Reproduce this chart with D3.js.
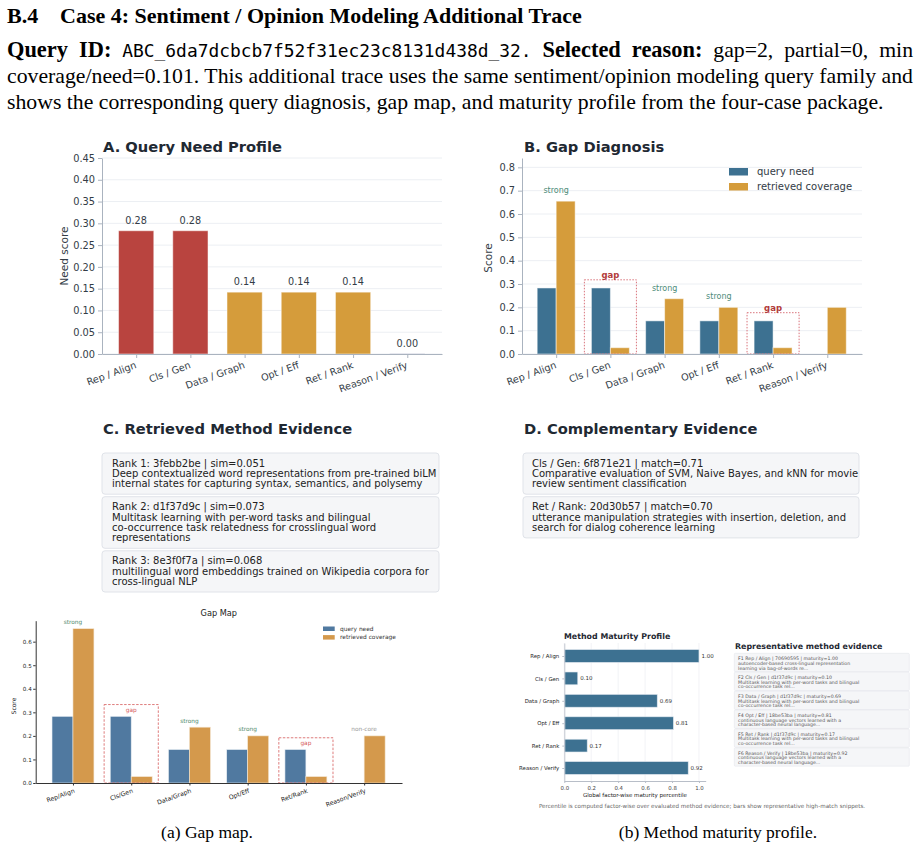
<!DOCTYPE html>
<html>
<head>
<meta charset="utf-8">
<script src="https://cdn.jsdelivr.net/npm/d3@7"></script>
<style>
  body { margin: 0; background: #fff; }
  svg text { font-family: "DejaVu Sans", sans-serif; white-space: pre; }
</style>
</head>
<body>
<svg id="fig" width="920" height="848"></svg>
<script>
// ---- data ----
const factors = ["Rep / Align", "Cls / Gen", "Data / Graph", "Opt / Eff", "Ret / Rank", "Reason / Verify"];
const factorsCompact = ["Rep/Align", "Cls/Gen", "Data/Graph", "Opt/Eff", "Ret/Rank", "Reason/Verify"];
const queryNeed = [0.283, 0.283, 0.142, 0.142, 0.142, 0.0];
const retrievedCoverage = [0.655, 0.027, 0.237, 0.200, 0.027, 0.200];
const diagnosis = ["strong", "gap", "strong", "strong", "gap", "non-core"];
const maturity = [1.00, 0.10, 0.69, 0.81, 0.17, 0.92];

const needTicks = [0, 0.05, 0.10, 0.15, 0.20, 0.25, 0.30, 0.35, 0.40, 0.45];
const gapTicks = [0, 0.1, 0.2, 0.3, 0.4, 0.5, 0.6, 0.7, 0.8];
const mapTicks = [0, 0.1, 0.2, 0.3, 0.4, 0.5, 0.6];
const maturityTicks = [0, 0.2, 0.4, 0.6, 0.8, 1.0];

const retrievedEvidence = [
  ["Rank 1: 3febb2be | sim=0.051",
   "Deep contextualized word representations from pre-trained biLM",
   "internal states for capturing syntax, semantics, and polysemy"],
  ["Rank 2: d1f37d9c | sim=0.073",
   "Multitask learning with per-word tasks and bilingual",
   "co-occurrence task relatedness for crosslingual word",
   "representations"],
  ["Rank 3: 8e3f0f7a | sim=0.068",
   "multilingual word embeddings trained on Wikipedia corpora for",
   "cross-lingual NLP"]
];
const complementaryEvidence = [
  ["Cls / Gen: 6f871e21 | match=0.71",
   "Comparative evaluation of SVM, Naive Bayes, and kNN for movie",
   "review sentiment classification"],
  ["Ret / Rank: 20d30b57 | match=0.70",
   "utterance manipulation strategies with insertion, deletion, and",
   "search for dialog coherence learning"]
];
const representativeEvidence = [
  ["F1 Rep / Align | 70690595 | maturity=1.00",
   "autoencoder-based cross-lingual representation",
   "learning via bag-of-words re..."],
  ["F2 Cls / Gen | d1f37d9c | maturity=0.10",
   "Multitask learning with per-word tasks and bilingual",
   "co-occurrence task rel..."],
  ["F3 Data / Graph | d1f37d9c | maturity=0.69",
   "Multitask learning with per-word tasks and bilingual",
   "co-occurrence task rel..."],
  ["F4 Opt / Eff | 18be53ba | maturity=0.81",
   "continuous language vectors learned with a",
   "character-based neural language..."],
  ["F5 Ret / Rank | d1f37d9c | maturity=0.17",
   "Multitask learning with per-word tasks and bilingual",
   "co-occurrence task rel..."],
  ["F6 Reason / Verify | 18be53ba | maturity=0.92",
   "continuous language vectors learned with a",
   "character-based neural language..."]
];

// ---- colours ----
const RED = "#b9443f", GOLD = "#d59c3b", BLUE = "#3d7191";
const MAP_BLUE = "#5079a0", MAP_GOLD = "#d4994c";
const INK = "#1f2933", TICK = "#333c46", SPINE = "#aab3bf", GRID = "#eceff3";
const STRONG = "#4d8c7a", GAPRED = "#b23a3a";

const svg = d3.select("#fig");
svg.append("rect").attr("width", 920).attr("height", 848).attr("fill", "#fff");

// ---- page header (LaTeX-like) ----
const serif = "'Liberation Serif', 'Times New Roman', serif";
const head = svg.append("g").attr("font-family", serif).attr("fill", "#000");

const title = head.append("text").attr("x", 7).attr("y", 23)
  .attr("font-size", 22).attr("font-weight", "bold").style("font-family", serif);
title.append("tspan").text("B.4");
title.append("tspan").attr("x", 60).text("Case 4: Sentiment / Opinion Modeling Additional Trace");

function bodyLine(y, parts, justify) {
  const t = head.append("text").attr("x", 7).attr("y", y)
    .attr("font-size", 21.75).style("font-family", serif);
  parts.forEach(p => {
    const s = t.append("tspan").text(p.s);
    if (p.b) s.attr("font-weight", "bold").attr("font-size", 22.4);
    if (p.m) s.style("font-family", "'DejaVu Sans Mono', monospace").attr("font-size", 17.9);
  });
  if (justify) {
    const w = t.node().getComputedTextLength();
    const n = (parts.filter(p => !p.m).map(p => p.s).join("").match(/ /g) || []).length;
    t.attr("word-spacing", (906 - w) / n);
  }
}
bodyLine(57, [
  {s: "Query ID:", b: true}, {s: " "},
  {s: "ABC_6da7dcbcb7f52f31ec23c8131d438d_32.", m: true}, {s: " "},
  {s: "Selected reason:", b: true}, {s: " gap=2, partial=0, min"}
], true);
bodyLine(83, [{s: "coverage/need=0.101. This additional trace uses the same sentiment/opinion modeling query family and"}], true);
bodyLine(109, [{s: "shows the corresponding query diagnosis, gap map, and maturity profile from the four-case package."}], false);

// ---- helpers ----
function styleAxis(g, color, textColor, size) {
  g.selectAll(".domain").attr("stroke", color);
  g.selectAll(".tick line").attr("stroke", color);
  g.selectAll(".tick text").attr("fill", textColor).attr("font-size", size)
    .style("font-family", "'DejaVu Sans', sans-serif");
}
function rotateLabels(g, dx, dy) {
  g.selectAll(".tick text")
    .attr("text-anchor", "end")
    .attr("dominant-baseline", "hanging")
    .attr("y", 0).attr("dy", 0)
    .attr("transform", `translate(${dx},${dy}) rotate(-20)`);
}

// ---- A. Query Need Profile ----
const xA = d3.scaleLinear().domain([-0.63, 5.64]).range([102, 442]);
const yA = d3.scaleLinear().domain([0, 0.45]).range([354, 158]);
const gA = svg.append("g");

gA.selectAll(".grid").data(needTicks).join("line")
  .attr("x1", xA.range()[0]).attr("x2", xA.range()[1])
  .attr("y1", d => yA(d)).attr("y2", d => yA(d))
  .attr("stroke", GRID).attr("stroke-width", 1);

gA.selectAll(".bar").data(queryNeed).join("rect")
  .attr("x", (d, i) => xA(i - 0.325))
  .attr("width", xA(0.65) - xA(0))
  .attr("y", d => d > 0 ? yA(d) : yA(0) - 1)
  .attr("height", d => d > 0 ? yA(0) - yA(d) : 1)
  .attr("fill", d => d >= 0.2 ? RED : (d > 0 ? GOLD : "#cfd1df"))
  .attr("stroke", "#fff").attr("stroke-opacity", 0.5).attr("stroke-width", 1);

gA.selectAll(".val").data(queryNeed).join("text")
  .attr("x", (d, i) => xA(i)).attr("y", d => yA(d) - 7)
  .attr("text-anchor", "middle").attr("font-size", 9.7).attr("fill", TICK)
  .text(d => d3.format(".2f")(d));

const axA = gA.append("g").attr("transform", `translate(${xA.range()[0]},0)`)
  .call(d3.axisLeft(yA).tickValues(needTicks).tickFormat(d3.format(".2f")).tickSize(4).tickSizeOuter(0));
styleAxis(axA, SPINE, TICK, 9.8);
const axAx = gA.append("g").attr("transform", `translate(0,${yA(0)})`)
  .call(d3.axisBottom(xA).tickValues(d3.range(factors.length)).tickFormat(i => factors[i]).tickSize(4).tickSizeOuter(0));
styleAxis(axAx, SPINE, TICK, 9.7);
rotateLabels(axAx, -2, 7);

gA.append("text").attr("transform", `translate(68,256) rotate(-90)`)
  .attr("text-anchor", "middle").attr("font-size", 10.5).attr("fill", TICK).text("Need score");
gA.append("text").attr("x", 103).attr("y", 152).attr("font-size", 14.7)
  .attr("font-weight", "bold").attr("fill", INK).text("A. Query Need Profile");

// ---- B. Gap Diagnosis ----
const xB = d3.scaleLinear().domain([-0.63, 5.64]).range([522, 862]);
const yB = d3.scaleLinear().domain([0, 0.84]).range([354, 158]);
const gB = svg.append("g");
const bw = 0.35;

gB.selectAll(".grid").data(gapTicks).join("line")
  .attr("x1", xB.range()[0]).attr("x2", xB.range()[1])
  .attr("y1", d => yB(d)).attr("y2", d => yB(d))
  .attr("stroke", GRID).attr("stroke-width", 1);

gB.selectAll(".need").data(queryNeed).join("rect")
  .attr("x", (d, i) => xB(i - bw)).attr("width", xB(bw) - xB(0))
  .attr("y", d => yB(d)).attr("height", d => yB(0) - yB(d))
  .attr("fill", BLUE).attr("stroke", "#fff").attr("stroke-opacity", 0.5);
gB.selectAll(".cov").data(retrievedCoverage).join("rect")
  .attr("x", (d, i) => xB(i)).attr("width", xB(bw) - xB(0))
  .attr("y", d => yB(d)).attr("height", d => yB(0) - yB(d))
  .attr("fill", GOLD).attr("stroke", "#fff").attr("stroke-opacity", 0.5);

diagnosis.forEach((tag, i) => {
  const top = Math.max(queryNeed[i], retrievedCoverage[i]);
  if (tag === "strong") {
    gB.append("text").attr("x", xB(i)).attr("y", yB(top + 0.045))
      .attr("dominant-baseline", "central").attr("text-anchor", "middle")
      .attr("font-size", 8).attr("fill", STRONG).text("strong");
  } else if (tag === "gap") {
    gB.append("rect").attr("x", xB(i - 0.48)).attr("width", xB(0.96) - xB(0))
      .attr("y", yB(top + 0.035)).attr("height", yB(0) - yB(top + 0.035))
      .attr("fill", "none").attr("stroke", "#d9737b").attr("stroke-width", 1)
      .attr("stroke-dasharray", "1.5,1.5");
    gB.append("text").attr("x", xB(i)).attr("y", yB(top + 0.056))
      .attr("dominant-baseline", "central").attr("text-anchor", "middle")
      .attr("font-size", 8.5).attr("font-weight", "bold").attr("fill", GAPRED).text("gap");
  }
});

const axB = gB.append("g").attr("transform", `translate(${xB.range()[0]},0)`)
  .call(d3.axisLeft(yB).tickValues(gapTicks).tickFormat(d3.format(".1f")).tickSize(4).tickSizeOuter(0));
styleAxis(axB, SPINE, TICK, 9.8);
const axBx = gB.append("g").attr("transform", `translate(0,${yB(0)})`)
  .call(d3.axisBottom(xB).tickValues(d3.range(factors.length)).tickFormat(i => factors[i]).tickSize(4).tickSizeOuter(0));
styleAxis(axBx, SPINE, TICK, 9.7);
rotateLabels(axBx, -2, 7);

gB.append("text").attr("transform", `translate(492,258) rotate(-90)`)
  .attr("text-anchor", "middle").attr("font-size", 10.5).attr("fill", TICK).text("Score");
gB.append("text").attr("x", 524).attr("y", 152).attr("font-size", 14.7)
  .attr("font-weight", "bold").attr("fill", INK).text("B. Gap Diagnosis");

const legB = gB.append("g");
[["query need", BLUE], ["retrieved coverage", GOLD]].forEach(([lab, c], k) => {
  legB.append("rect").attr("x", 729).attr("y", 168 + k * 15).attr("width", 19).attr("height", 7.5).attr("fill", c);
  legB.append("text").attr("x", 757).attr("y", 171.7 + k * 15).attr("dominant-baseline", "central")
    .attr("font-size", 10).attr("fill", TICK).text(lab);
});

// ---- evidence cards ----
function cards(g, list, x0, x1, y0, opts) {
  let y = y0;
  list.forEach(lines => {
    const h = opts.pad + opts.lh * lines.length;
    g.append("rect").attr("x", x0).attr("y", y).attr("width", x1 - x0).attr("height", h)
      .attr("rx", opts.rx).attr("fill", "#f5f6f8").attr("stroke", "#e0e3e9").attr("stroke-width", opts.sw);
    lines.forEach((ln, j) => {
      g.append("text").attr("x", x0 + opts.tx).attr("y", y + opts.first + j * opts.lh)
        .attr("font-size", opts.fs).attr("fill", opts.color).text(ln);
    });
    y += h + opts.gap;
  });
}
const gC = svg.append("g");
gC.append("text").attr("x", 103).attr("y", 434).attr("font-size", 14.7)
  .attr("font-weight", "bold").attr("fill", INK).text("C. Retrieved Method Evidence");
cards(gC, retrievedEvidence, 102, 439, 453,
  {pad: 10, lh: 10.4, rx: 3, sw: 1, tx: 10, first: 13.5, fs: 10, color: "#222", gap: 2.5});

const gD = svg.append("g");
gD.append("text").attr("x", 524).attr("y", 434).attr("font-size", 14.7)
  .attr("font-weight", "bold").attr("fill", INK).text("D. Complementary Evidence");
cards(gD, complementaryEvidence, 523, 859, 453,
  {pad: 10, lh: 10.4, rx: 3, sw: 1, tx: 9, first: 13.5, fs: 10, color: "#222", gap: 2.5});

// ---- (a) Gap Map ----
const xM = d3.scaleLinear().domain([-0.64, 5.65]).range([35.7, 402]);
const yM = d3.scaleLinear().domain([0, 0.689]).range([783, 620.7]);
const gM = svg.append("g");
const mw = 0.36;

gM.selectAll(".need").data(queryNeed).join("rect")
  .attr("x", (d, i) => xM(i - mw)).attr("width", xM(mw) - xM(0))
  .attr("y", d => yM(d)).attr("height", d => yM(0) - yM(d))
  .attr("fill", MAP_BLUE).attr("stroke", "#e8eef4").attr("stroke-width", 0.6);
gM.selectAll(".cov").data(retrievedCoverage).join("rect")
  .attr("x", (d, i) => xM(i)).attr("width", xM(mw) - xM(0))
  .attr("y", d => yM(d)).attr("height", d => yM(0) - yM(d))
  .attr("fill", MAP_GOLD).attr("stroke", "#f4e6d2").attr("stroke-width", 0.6);

diagnosis.forEach((tag, i) => {
  const top = Math.max(queryNeed[i], retrievedCoverage[i]);
  if (tag === "gap") {
    gM.append("rect").attr("x", xM(i - 0.465)).attr("width", xM(0.93) - xM(0))
      .attr("y", yM(top + 0.05)).attr("height", yM(0) - yM(top + 0.05))
      .attr("fill", "none").attr("stroke", "#d65a5a").attr("stroke-width", 0.8)
      .attr("stroke-dasharray", "2.5,1.5");
    gM.append("text").attr("x", xM(i)).attr("y", yM(top + 0.026))
      .attr("dominant-baseline", "central").attr("text-anchor", "middle")
      .attr("font-size", 5.8).attr("fill", "#d65a5a").text("gap");
  } else {
    gM.append("text").attr("x", xM(i)).attr("y", yM(top + 0.028))
      .attr("dominant-baseline", "central").attr("text-anchor", "middle")
      .attr("font-size", 5.8).attr("fill", tag === "strong" ? "#4f8a6c" : "#9a9a9a").text(tag);
  }
});

const axM = gM.append("g").attr("transform", `translate(${xM.range()[0]},0)`)
  .call(d3.axisLeft(yM).tickValues(mapTicks).tickFormat(d3.format(".1f")).tickSize(2.5).tickSizeOuter(0));
styleAxis(axM, "#333", "#222", 5.6);
axM.selectAll(".tick text").attr("x", -4);
const axMx = gM.append("g").attr("transform", `translate(0,${yM(0)})`)
  .call(d3.axisBottom(xM).tickValues(d3.range(factors.length)).tickFormat(i => factorsCompact[i]).tickSize(2.5).tickSizeOuter(0));
styleAxis(axMx, "#333", "#222", 6.2);
rotateLabels(axMx, 0, 5);

gM.append("text").attr("transform", `translate(16,706) rotate(-90)`)
  .attr("text-anchor", "middle").attr("font-size", 6).attr("fill", "#222").text("Score");
gM.append("text").attr("x", (xM.range()[0] + xM.range()[1]) / 2).attr("y", 616)
  .attr("text-anchor", "middle").attr("font-size", 8.2).attr("fill", "#222").text("Gap Map");
[["query need", MAP_BLUE], ["retrieved coverage", MAP_GOLD]].forEach(([lab, c], k) => {
  gM.append("rect").attr("x", 323).attr("y", 626.5 + k * 8.6).attr("width", 11.7).attr("height", 4.5).attr("fill", c);
  gM.append("text").attr("x", 340).attr("y", 628.7 + k * 8.6).attr("dominant-baseline", "central")
    .attr("font-size", 5.9).attr("fill", "#333").text(lab);
});

// ---- (b) Method Maturity Profile ----
const xP = d3.scaleLinear().domain([0, 1.05]).range([564.3, 705.7]);
const yP = d3.scaleLinear().domain([-0.58, 5.58]).range([643, 781]);
const gP = svg.append("g");
const bh = 0.57;

gP.selectAll(".grid").data(maturityTicks).join("line")
  .attr("x1", d => xP(d)).attr("x2", d => xP(d))
  .attr("y1", yP.range()[0]).attr("y2", yP.range()[1])
  .attr("stroke", "#eceef2").attr("stroke-width", 0.7);

gP.selectAll(".bar").data(maturity).join("rect")
  .attr("x", xP(0)).attr("width", d => xP(d) - xP(0))
  .attr("y", (d, i) => yP(i - bh / 2)).attr("height", yP(bh) - yP(0))
  .attr("fill", BLUE).attr("stroke", "#dfe7ee").attr("stroke-width", 0.6);
gP.selectAll(".val").data(maturity).join("text")
  .attr("x", d => xP(d + 0.018)).attr("y", (d, i) => yP(i))
  .attr("dominant-baseline", "central").attr("font-size", 5.5).attr("fill", "#333")
  .text(d => d3.format(".2f")(d));

const axP = gP.append("g").attr("transform", `translate(${xP(0)},0)`)
  .call(d3.axisLeft(yP).tickValues(d3.range(factors.length)).tickFormat(i => factors[i]).tickSize(2).tickSizeOuter(0));
styleAxis(axP, "#b8bec8", "#222", 5.4);
axP.select(".domain").attr("stroke", "#c3c8d0");
const axPx = gP.append("g").attr("transform", `translate(0,${yP.range()[1]})`)
  .call(d3.axisBottom(xP).tickValues(maturityTicks).tickFormat(d3.format(".1f")).tickSize(2).tickSizeOuter(0));
styleAxis(axPx, "#b8bec8", "#444", 5.4);

gP.append("text").attr("x", (xP.range()[0] + xP.range()[1]) / 2).attr("y", 797)
  .attr("text-anchor", "middle").attr("font-size", 5.5).attr("fill", "#222")
  .text("Global factor-wise maturity percentile");
gP.append("text").attr("x", 564).attr("y", 639).attr("font-size", 7.9)
  .attr("font-weight", "bold").attr("fill", INK).text("Method Maturity Profile");
gP.append("text").attr("x", 702).attr("y", 808).attr("text-anchor", "middle")
  .attr("font-size", 5.6).attr("fill", "#666")
  .text("Percentile is computed factor-wise over evaluated method evidence; bars show representative high-match snippets.");

const gR = svg.append("g");
gR.append("text").attr("x", 735).attr("y", 649).attr("font-size", 7.9)
  .attr("font-weight", "bold").attr("fill", INK).text("Representative method evidence");
cards(gR, representativeEvidence, 734.3, 909.3, 653.3,
  {pad: 4.3, lh: 4.7, rx: 1, sw: 0.5, tx: 3.8, first: 6.8, fs: 4.7, color: "#555", gap: 0.5});

// ---- captions ----
svg.append("text").attr("x", 207).attr("y", 838).attr("text-anchor", "middle")
  .attr("font-size", 17.5).style("font-family", serif).text("(a) Gap map.");
svg.append("text").attr("x", 718).attr("y", 838).attr("text-anchor", "middle")
  .attr("font-size", 17.5).style("font-family", serif).text("(b) Method maturity profile.");
</script>
</body>
</html>
